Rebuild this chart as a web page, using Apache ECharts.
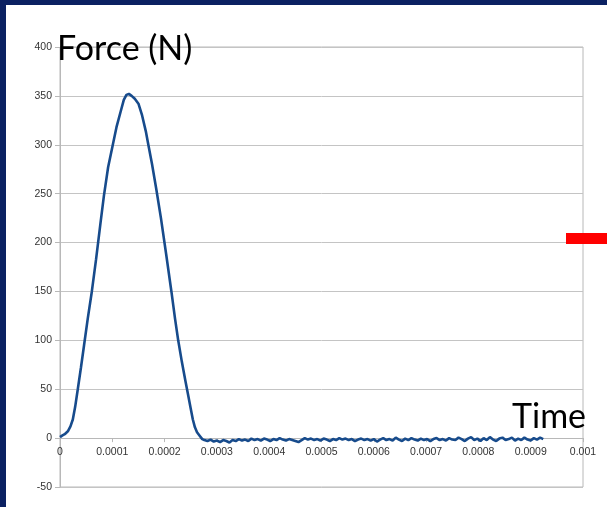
<!DOCTYPE html>
<html>
<head>
<meta charset="utf-8">
<style>
  html, body { margin: 0; padding: 0; background: #ffffff; }
  #chart { width: 607px; height: 507px; }
</style>
<script src="https://cdn.jsdelivr.net/npm/echarts@6/dist/echarts.min.js"></script>
</head>
<body>
<div id="chart"></div>
<script>
// Time values in units of 1e-4 s
const timeE4 = [
  0, 0.04, 0.09, 0.15, 0.2, 0.245, 0.29, 0.34, 0.40, 0.46, 0.53, 0.609, 0.69, 0.77, 0.84, 0.92,
  1.01, 1.08, 1.16, 1.22, 1.27, 1.317, 1.37, 1.43, 1.5, 1.57, 1.64, 1.70, 1.76, 1.84, 1.93,
  2.03, 2.13, 2.20, 2.26, 2.33, 2.40, 2.45, 2.5, 2.54, 2.58, 2.62, 2.67, 2.72,
  2.76, 2.82, 2.88, 2.94, 3.00, 3.06, 3.12, 3.18, 3.24, 3.30,
  3.36, 3.42, 3.48, 3.54, 3.60, 3.66, 3.72, 3.78, 3.84, 3.90,
  3.96, 4.02, 4.08, 4.14, 4.20, 4.26, 4.32, 4.38, 4.44, 4.50,
  4.56, 4.62, 4.68, 4.74, 4.80, 4.86, 4.92, 4.98, 5.04, 5.10,
  5.16, 5.22, 5.28, 5.34, 5.40, 5.46, 5.52, 5.58, 5.64, 5.70,
  5.76, 5.82, 5.88, 5.94, 6.00, 6.06, 6.12, 6.18, 6.24, 6.30,
  6.36, 6.42, 6.48, 6.54, 6.60, 6.66, 6.72, 6.78, 6.84, 6.90,
  6.96, 7.02, 7.08, 7.14, 7.20, 7.26, 7.32, 7.38, 7.44, 7.50,
  7.56, 7.62, 7.68, 7.74, 7.80, 7.86, 7.92, 7.98, 8.04, 8.10,
  8.16, 8.22, 8.28, 8.34, 8.40, 8.46, 8.52, 8.58, 8.64, 8.70,
  8.76, 8.82, 8.88, 8.94, 9.00, 9.06, 9.12, 9.18, 9.24
];
// Force in N
const forceN = [
  1, 2.5, 4, 7, 12, 19, 32, 50, 72, 95, 122, 150, 183, 218, 248, 277,
  300, 318, 334, 346, 351, 352, 350, 347, 342, 330, 314, 297, 280, 255, 225,
  188, 150, 122, 100, 78, 58, 44, 30, 19, 11, 6, 2.5, -1,
  -2, -3, -1.5, -3.5, -2.5, -4, -2, -3, -4.5, -2,
  -3, -1, -2.5, -1.5, -3, -0.5, -2, -1, -2.5, -0.5,
  -1.5, -3, -1, -2, 0, -1.5, -2.5, -1, -2, -3,
  -4, -2, 0, -1.5, -0.5, -2, -1, -2.5, -0.5, -1.5,
  -3, -1, -2, 0, -1.5, -0.5, -2, -1, -3, -1.5,
  -0.5, -2, -1, -2.5, -1, -3.5, -1.5, 0, -2, -1,
  -2.5, 0.5, -1.5, -3, -0.5, -2, 0, -1.5, -2.5, -0.5,
  -2, -1, -3, -1, 0, -2, -1, -2.5, 0, -1.5,
  -2, 0.5, -1, -3, -0.5, 1, -2, -0.5, -3, 0,
  -2, 1, -1.5, -3, -0.5, 0.5, -2, -1, 0.5, -2.5,
  -0.5, -2, 0.5, -1.5, -2.5, 0, -1.5, 0.5, -1
];
const xTickLabels = ['0', '0.0001', '0.0002', '0.0003', '0.0004', '0.0005', '0.0006', '0.0007', '0.0008', '0.0009', '0.001'];
const yTitle = 'Force (N)';
const xTitle = 'Time';

const seriesData = timeE4.map((t, i) => [t * 1e-4, forceN[i]]);

const gridTop = 47, gridBottom = 20, chartH = 507;
const yMin = -50, yMax = 400;
// distance from bottom of grid to the zero line, via the axis scale
const plotH = chartH - gridTop - gridBottom;
const zeroOffset = (0 - yMin) / (yMax - yMin) * plotH;

const chart = echarts.init(document.getElementById('chart'), null, { renderer: 'canvas' });
chart.setOption({
  animation: false,
  backgroundColor: '#ffffff',
  grid: {
    left: 60, right: 24, top: gridTop, bottom: gridBottom,
    show: true, borderColor: '#b8b8b8', borderWidth: 1, backgroundColor: 'transparent'
  },
  xAxis: {
    type: 'value', min: 0, max: 0.001, interval: 0.0001,
    offset: -zeroOffset,
    axisLine: { onZero: false, lineStyle: { color: '#b8b8b8', width: 1 } },
    axisTick: { show: true, length: 4, lineStyle: { color: '#b8b8b8' } },
    axisLabel: {
      color: '#333333', fontSize: 10.5, fontFamily: 'Liberation Sans', margin: 8,
      showMinLabel: true, showMaxLabel: true,
      formatter: v => xTickLabels[Math.round(v / 0.0001)]
    },
    splitLine: { show: false }
  },
  yAxis: {
    type: 'value', min: yMin, max: yMax, interval: 50,
    axisLine: { show: true, lineStyle: { color: '#b8b8b8', width: 1 } },
    axisTick: { show: true, length: 5, lineStyle: { color: '#b8b8b8' } },
    axisLabel: { color: '#333333', fontSize: 10.5, fontFamily: 'Liberation Sans', margin: 8 },
    splitLine: { show: true, lineStyle: { color: '#c4c4c4', width: 1 } }
  },
  series: [{
    type: 'line',
    data: seriesData,
    showSymbol: false,
    symbol: 'none',
    lineStyle: { color: '#174b8c', width: 2.6 },
    z: 5
  }],
  graphic: [
    { type: 'rect', left: 0, top: 0, shape: { width: 607, height: 5 }, style: { fill: '#0b2162' }, z: 100 },
    { type: 'rect', left: 0, top: 0, shape: { width: 6, height: 507 }, style: { fill: '#0b2162' }, z: 100 },
    { type: 'rect', left: 566, top: 233, shape: { width: 41, height: 11 }, style: { fill: '#ff0000' }, z: 100 },
    { type: 'text', left: 57, top: 32, style: { text: yTitle, fill: '#000000', font: '34px Lato' }, z: 100 },
    { type: 'text', left: 512, top: 400, style: { text: xTitle, fill: '#000000', font: '34px Lato' }, z: 100 }
  ]
});
</script>
</body>
</html>
